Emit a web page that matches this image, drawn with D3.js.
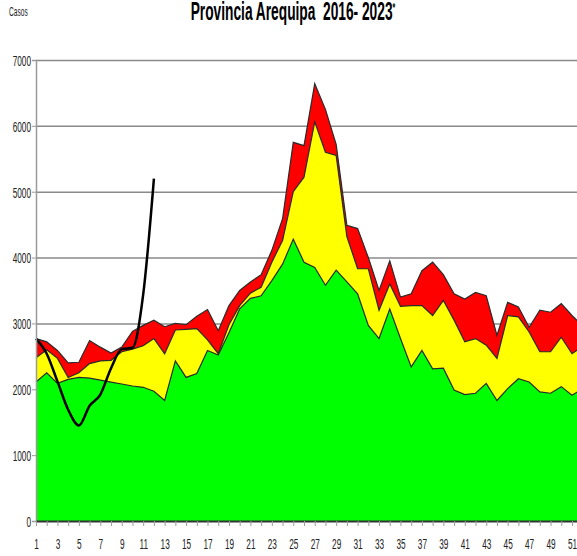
<!DOCTYPE html>
<html>
<head>
<meta charset="utf-8">
<script src="https://cdn.jsdelivr.net/npm/d3@7"></script>
<style>
  html, body { margin: 0; padding: 0; background: #fff; }
  svg { display: block; font-family: 'Liberation Sans', Arial, sans-serif; }
</style>
</head>
<body>
<div id="chart"></div>
<script>
// canal endemico, semanas epidemiologicas 1-52
const weeks = d3.range(1, 53)

// limite superior de la zona de exito
const exito = [2110, 2250, 2090, 2150, 2180, 2170, 2140, 2110, 2080, 2050, 2030, 1970, 1830,
  2430, 2180, 2240, 2590, 2520, 2860, 3220, 3380, 3420, 3650, 3900, 4280, 3930, 3850, 3580,
  3810, 3630, 3450, 2970, 2770, 3220, 2770, 2340, 2590, 2310, 2320, 1990, 1920, 1940, 2090,
  1830, 2010, 2160, 2110, 1960, 1940, 2040, 1910, 2010]

// limite superior de la zona de seguridad
const seguridad = [2480, 2600, 2470, 2180, 2250, 2390, 2430, 2440, 2570, 2610, 2660, 2770, 2540,
  2900, 2910, 2920, 2750, 2540, 2980, 3270, 3460, 3550, 3930, 4260, 5000, 5220, 6060, 5600,
  5550, 4320, 3830, 3830, 3200, 3600, 3260, 3270, 3270, 3120, 3350, 3050, 2720, 2770, 2670,
  2470, 3120, 3100, 2870, 2570, 2570, 2790, 2540, 2650]

// limite superior de la zona de alarma
const alarma = [2770, 2720, 2590, 2400, 2410, 2740, 2640, 2550, 2640, 2880, 2970, 3050, 2950,
  3000, 2980, 3110, 3210, 2890, 3270, 3500, 3630, 3740, 4110, 4590, 5750, 5700, 6640, 6250,
  5720, 4490, 4440, 4000, 3500, 3950, 3400, 3450, 3800, 3930, 3740, 3450, 3370, 3470, 3420,
  2820, 3320, 3250, 2940, 3200, 3170, 3300, 3120, 2960]

// casos 2023
const weeks2023 = d3.range(1, 13)
const casos2023 = [2770, 2540, 2120, 1690, 1450, 1750, 1920, 2320, 2610, 2630, 3440, 5200]

const yTicks = [0, 1000, 2000, 3000, 4000, 5000, 6000, 7000]
const xLabels = weeks.filter(d => d % 2 === 1)

const squeeze = 0.55
const width = 577
const height = 556
const margin = { top: 60, left: 36, bottom: 35 }

const svg = d3
  .select('#chart')
  .append('svg')
  .attr('width', width)
  .attr('height', height)

const xScale = d3.scaleLinear().domain([1, 52]).range([margin.left, margin.left + 51 * 10.72])
const yScale = d3.scaleLinear().domain([0, 7000]).range([height - margin.bottom, margin.top])

const rows = weeks.map((w, i) => ({ w, exito: exito[i], seguridad: seguridad[i], alarma: alarma[i] }))

// gridlines
svg
  .append('g')
  .attr('class', 'grid')
  .attr('transform', 'translate(' + margin.left + ',0)')
  .call(d3.axisLeft(yScale).tickValues(yTicks.slice(1)).tickSize(-(width - margin.left)).tickFormat(''))
  .call(g => g.select('.domain').remove())
  .selectAll('line')
  .attr('stroke', '#8a8a8a')
  .attr('stroke-width', 1.5)

// areas
const zones = [
  { key: 'alarma', color: '#ff0000' },
  { key: 'seguridad', color: '#ffff00' },
  { key: 'exito', color: '#00ff00' }
]

zones.forEach(z => {
  const area = d3
    .area()
    .x(d => xScale(d.w))
    .y0(yScale(0))
    .y1(d => yScale(d[z.key]))
  svg
    .append('path')
    .datum(rows)
    .attr('d', area)
    .attr('fill', z.color)
  svg
    .append('path')
    .datum(rows)
    .attr('d', d3.line().x(d => xScale(d.w)).y(d => yScale(d[z.key])))
    .attr('fill', 'none')
    .attr('stroke', '#2a2a2a')
    .attr('stroke-width', 1.2)
})

// casos 2023
svg
  .append('path')
  .datum(weeks2023.map((w, i) => ({ w, v: casos2023[i] })))
  .attr('d', d3.line().x(d => xScale(d.w)).y(d => yScale(d.v)).curve(d3.curveMonotoneX))
  .attr('fill', 'none')
  .attr('stroke', '#000')
  .attr('stroke-width', 2.5)

// y axis
const yAxis = svg
  .append('g')
  .attr('transform', 'translate(' + margin.left + ',0)')
  .call(d3.axisLeft(yScale).tickValues(yTicks).tickSize(4).tickPadding(5).tickFormat(d3.format('d')))
yAxis.select('.domain').attr('stroke', '#9a9a9a').attr('stroke-width', 1.5)
yAxis.selectAll('line').attr('stroke', '#9a9a9a')
yAxis
  .selectAll('text')
  .attr('transform', 'scale(' + squeeze + ',1)')
  .attr('x', -5 / squeeze)
  .attr('dy', '0.36em')
  .style('font-size', '15px')
  .attr('fill', '#222')

// x axis
const xAxis = svg
  .append('g')
  .attr('transform', 'translate(0,' + yScale(0) + ')')
  .call(
    d3
      .axisBottom(xScale)
      .tickValues(weeks)
      .tickSize(5)
      .tickSizeOuter(0)
      .tickFormat(d => (xLabels.includes(d) ? d : ''))
  )
xAxis.select('.domain').attr('stroke', '#333').attr('stroke-width', 2)
xAxis.selectAll('line').attr('stroke', '#9a9a9a')
xAxis
  .selectAll('text')
  .attr('transform', 'scale(' + squeeze + ',1)')
  .attr('y', 17)
  .style('font-size', '15px')
  .attr('fill', '#222')

// title
const title = svg
  .append('text')
  .attr('transform', 'translate(293,20) scale(' + squeeze + ',1)')
  .attr('text-anchor', 'middle')
  .style('font-size', '25px')
  .style('font-weight', 'bold')
  .attr('fill', '#000')
title.append('tspan').text('Provincia Arequipa\u00a0 2016- 2023')
title.append('tspan').attr('dy', -8).style('font-size', '13px').text('*')

svg
  .append('text')
  .attr('transform', 'translate(9,16) scale(' + squeeze + ',1)')
  .style('font-size', '12px')
  .attr('fill', '#222')
  .text('Casos')
</script>
</body>
</html>
